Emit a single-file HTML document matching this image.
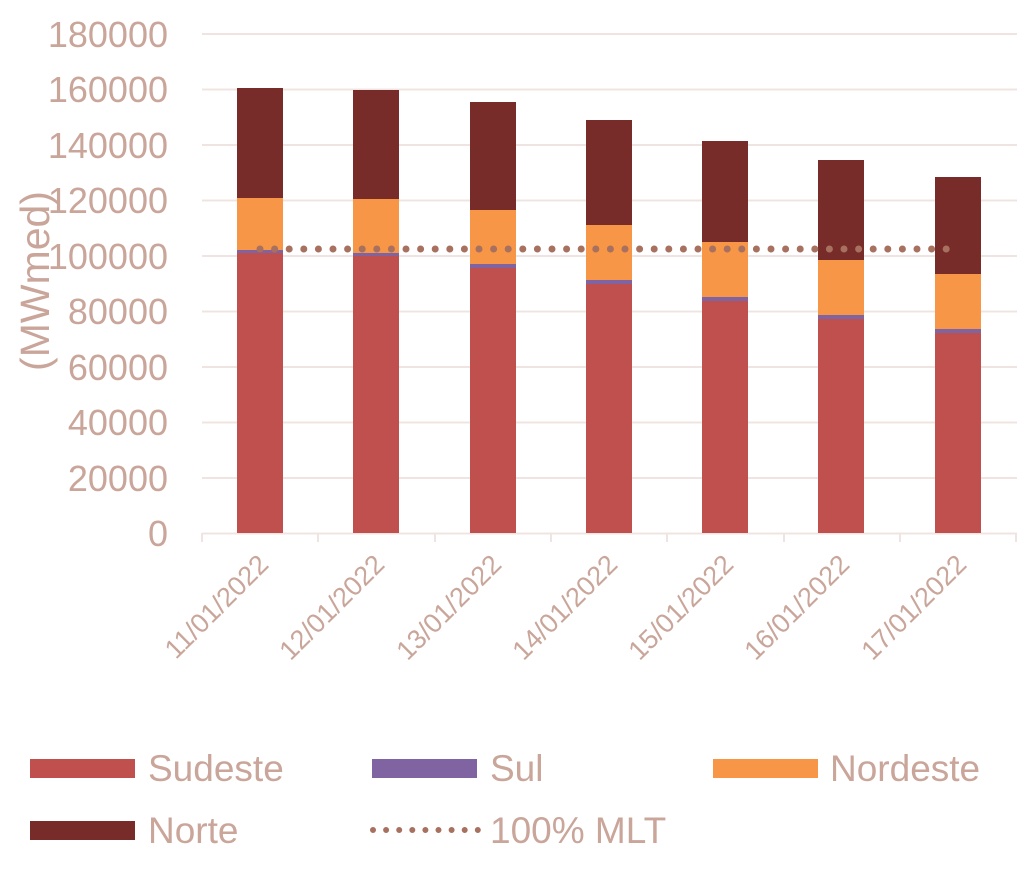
<!DOCTYPE html>
<html><head><meta charset="utf-8"><style>body{margin:0;background:#fff}svg{display:block}</style></head><body>
<svg width="1024" height="872" xmlns="http://www.w3.org/2000/svg" font-family="Liberation Sans, sans-serif" fill="#c9a59a">
<g stroke="#f0e4e2" stroke-width="2">
<line x1="202" y1="34" x2="1017" y2="34"/><line x1="202" y1="89.5" x2="1017" y2="89.5"/><line x1="202" y1="145" x2="1017" y2="145"/><line x1="202" y1="200.5" x2="1017" y2="200.5"/><line x1="202" y1="256" x2="1017" y2="256"/><line x1="202" y1="311.5" x2="1017" y2="311.5"/><line x1="202" y1="367" x2="1017" y2="367"/><line x1="202" y1="422.5" x2="1017" y2="422.5"/><line x1="202" y1="478" x2="1017" y2="478"/>
<line x1="202" y1="533.5" x2="1017" y2="533.5"/>
<line x1="202" y1="533" x2="202" y2="542"/><line x1="318" y1="533" x2="318" y2="542"/><line x1="435" y1="533" x2="435" y2="542"/><line x1="551" y1="533" x2="551" y2="542"/><line x1="667" y1="533" x2="667" y2="542"/><line x1="784" y1="533" x2="784" y2="542"/><line x1="900" y1="533" x2="900" y2="542"/><line x1="1016" y1="533" x2="1016" y2="542"/>
</g>
<g font-size="36" text-anchor="end">
<text x="168" y="47">180000</text><text x="168" y="102">160000</text><text x="168" y="158">140000</text><text x="168" y="213">120000</text><text x="168" y="269">100000</text><text x="168" y="324">80000</text><text x="168" y="380">60000</text><text x="168" y="435">40000</text><text x="168" y="491">20000</text><text x="168" y="546">0</text>
</g>
<text transform="translate(49,281) rotate(-90)" font-size="41" text-anchor="middle">(MWmed)</text>
<g>
<rect x="237" y="253" width="46" height="280" fill="#c0504d"/><rect x="237" y="250" width="46" height="3" fill="#8064a2"/><rect x="237" y="198" width="46" height="52" fill="#f79646"/><rect x="237" y="88" width="46" height="110" fill="#772c2a"/>
<rect x="353" y="256" width="46" height="277" fill="#c0504d"/><rect x="353" y="253" width="46" height="3" fill="#8064a2"/><rect x="353" y="199" width="46" height="54" fill="#f79646"/><rect x="353" y="90" width="46" height="109" fill="#772c2a"/>
<rect x="470" y="268" width="46" height="265" fill="#c0504d"/><rect x="470" y="264" width="46" height="4" fill="#8064a2"/><rect x="470" y="210" width="46" height="54" fill="#f79646"/><rect x="470" y="102" width="46" height="108" fill="#772c2a"/>
<rect x="586" y="284" width="46" height="249" fill="#c0504d"/><rect x="586" y="280" width="46" height="4" fill="#8064a2"/><rect x="586" y="225" width="46" height="55" fill="#f79646"/><rect x="586" y="120" width="46" height="105" fill="#772c2a"/>
<rect x="702" y="301" width="46" height="232" fill="#c0504d"/><rect x="702" y="297" width="46" height="4" fill="#8064a2"/><rect x="702" y="242" width="46" height="55" fill="#f79646"/><rect x="702" y="141" width="46" height="101" fill="#772c2a"/>
<rect x="818" y="319" width="46" height="214" fill="#c0504d"/><rect x="818" y="315" width="46" height="4" fill="#8064a2"/><rect x="818" y="260" width="46" height="55" fill="#f79646"/><rect x="818" y="160" width="46" height="100" fill="#772c2a"/>
<rect x="935" y="333" width="46" height="200" fill="#c0504d"/><rect x="935" y="329" width="46" height="4" fill="#8064a2"/><rect x="935" y="274" width="46" height="55" fill="#f79646"/><rect x="935" y="177" width="46" height="97" fill="#772c2a"/>
</g>
<line x1="260" y1="249" x2="948" y2="249" stroke="#a8705f" stroke-width="7" stroke-linecap="round" stroke-dasharray="0 14.6"/>
<g font-size="27" text-anchor="end">
<text transform="translate(270,566) rotate(-45)">11/01/2022</text>
<text transform="translate(386,566) rotate(-45)">12/01/2022</text>
<text transform="translate(503,566) rotate(-45)">13/01/2022</text>
<text transform="translate(619,566) rotate(-45)">14/01/2022</text>
<text transform="translate(735,566) rotate(-45)">15/01/2022</text>
<text transform="translate(851,566) rotate(-45)">16/01/2022</text>
<text transform="translate(968,566) rotate(-45)">17/01/2022</text>
</g>
<g font-size="37">
<rect x="30" y="759" width="105" height="19" fill="#c0504d"/><text x="148" y="781">Sudeste</text>
<rect x="372" y="759" width="105" height="19" fill="#8064a2"/><text x="490" y="781">Sul</text>
<rect x="713" y="759" width="105" height="19" fill="#f79646"/><text x="830" y="781">Nordeste</text>
<rect x="30" y="821" width="105" height="19" fill="#772c2a"/><text x="148" y="843">Norte</text>
<line x1="373" y1="830" x2="478" y2="830" stroke="#a8705f" stroke-width="6" stroke-linecap="round" stroke-dasharray="0 13.1"/><text x="490" y="843">100% MLT</text>
</g>
</svg>
</body></html>
